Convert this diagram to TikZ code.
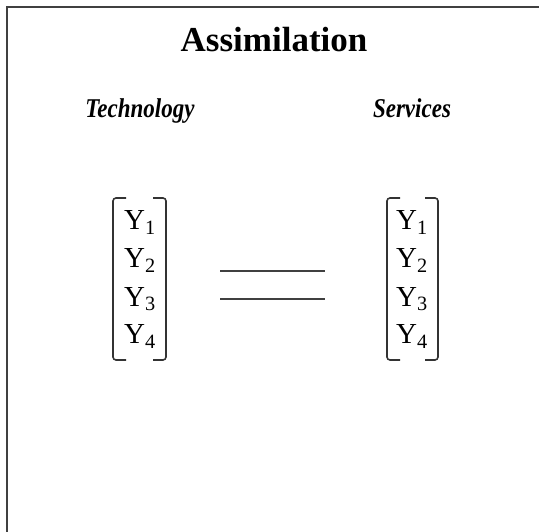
\documentclass[tikz,border=0pt]{standalone}
\usepackage{fontspec}
\setmainfont{Liberation Serif}
\usepackage{tikz}
\usetikzlibrary{calc, positioning}

\begin{document}
\begin{tikzpicture}[x=1pt, y=-1pt,
		title/.style={font=\fontsize{35}{35}\selectfont\bfseries, anchor=base},
		head/.style={font=\fontsize{23}{23}\selectfont\bfseries\itshape, anchor=base},
		entry/.style={font=\fontsize{29}{29}\selectfont, anchor=base, inner sep=0pt},
		brack/.style={line width=1.6pt, black!80, rounded corners=3pt},
		eqline/.style={line width=2pt, black!75}]
			\useasboundingbox (0,0) rectangle (539,532);
			\pgfmathsetmacro{\tx}{140}
			\pgfmathsetmacro{\sx}{412}
			% Frame
			\draw[line width=2pt, black!75] (7,532) -- (7,7) -- (539,7);
			
			\node[title] (ttl) at (274,52) {Assimilation};
			\node[head] (tech) at (\tx,118) {\scalebox{1}[1.18]{Technology}};
			\node[head] (serv) at (\sx,118) {\scalebox{1}[1.18]{Services}};
			
			% Entries
			\foreach \i in {1,2,3,4}
			{
				\node[entry] (tY\i) at (\tx,192+38*\i) {Y\textsubscript{\i}};
				\node[entry] (sY\i) at (\sx,192+38*\i) {Y\textsubscript{\i}};
			}
			
			% Brackets
			\draw[brack] (126,198) -- (113,198) -- (113,360) -- (126,360);
			\draw[brack] (153,198) -- (166,198) -- (166,360) -- (153,360);
			\draw[brack] (400,198) -- (387,198) -- (387,360) -- (400,360);
			\draw[brack] (425,198) -- (438,198) -- (438,360) -- (425,360);
			
			% Equals
			\coordinate (ea) at (220,271);
			\coordinate (eb) at (325,271);
			\coordinate (ec) at (220,299);
			\coordinate (ed) at (325,299);
			\draw[eqline] (ea) -- (eb);
			\draw[eqline] (ec) -- (ed);
			
		\end{tikzpicture}
\end{document}
